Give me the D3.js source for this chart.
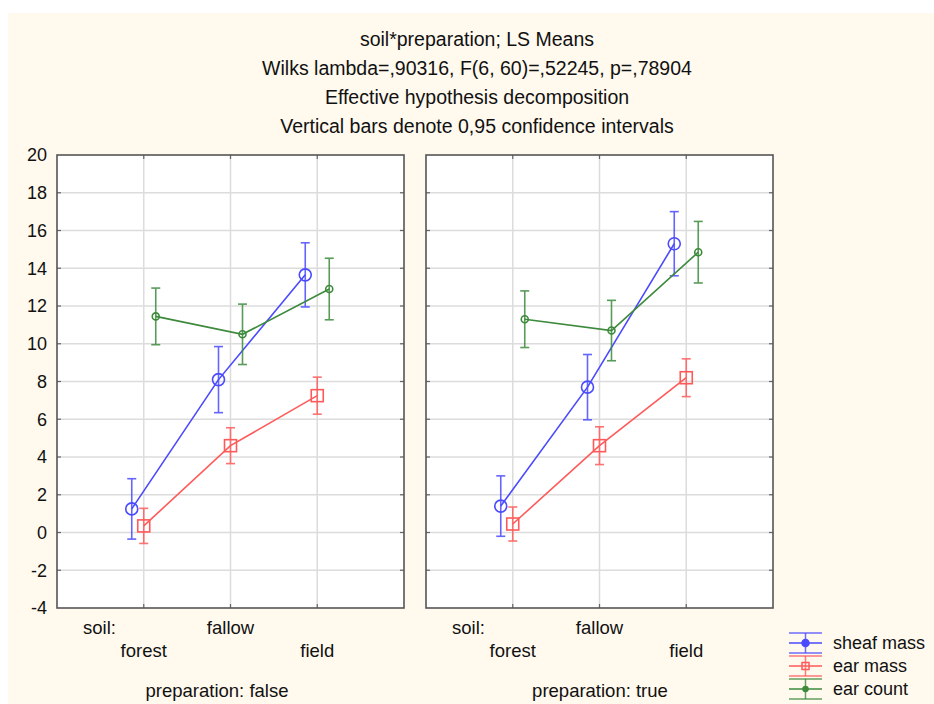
<!DOCTYPE html>
<html><head><meta charset="utf-8">
<script src="https://cdn.jsdelivr.net/npm/d3@7"></script>
<style>
html,body{margin:0;padding:0;background:#fff;}
svg{display:block;font-family:"Liberation Sans",Arial,sans-serif;}
</style></head>
<body>
<svg id="chart" width="934" height="704"></svg>
<script>
// ---- data ----
const titleLines = [
  "soil*preparation; LS Means",
  "Wilks lambda=,90316, F(6, 60)=,52245, p=,78904",
  "Effective hypothesis decomposition",
  "Vertical bars denote 0,95 confidence intervals"
];
const categories = ["forest", "fallow", "field"];
const panels = ["false", "true"];
const seriesNames = ["sheaf mass", "ear mass", "ear count"];
const seriesColors = ["#4a4aff", "#ff5a5a", "#3d8a3d"];
const yTicks = [-4, -2, 0, 2, 4, 6, 8, 10, 12, 14, 16, 18, 20];

// means [panel][category]
const sheafMass = [[1.25, 8.1, 13.65], [1.4, 7.7, 15.3]];
const earMass   = [[0.35, 4.6, 7.25], [0.45, 4.6, 8.2]];
const earCount  = [[11.45, 10.5, 12.9], [11.3, 10.7, 14.85]];
// 95% CI half widths [panel][category]
const sheafMassCI = [[1.6, 1.75, 1.7], [1.6, 1.73, 1.7]];
const earMassCI   = [[0.93, 0.95, 0.98], [0.9, 1.0, 1.0]];
const earCountCI  = [[1.5, 1.6, 1.63], [1.5, 1.6, 1.63]];

const seriesMeans = [sheafMass, earMass, earCount];
const seriesCI = [sheafMassCI, earMassCI, earCountCI];

// ---- layout ----
const svg = d3.select("#chart");
svg.append("rect").attr("x", 8).attr("y", 13).attr("width", 926).attr("height", 691).attr("fill", "#fff9ee");

const panelLeft = [57, 426], panelW = 347, plotTop = 155, plotBottom = 608;
const y = d3.scaleLinear().domain([-4, 20]).range([plotBottom, plotTop]);
const dodge = d3.scalePoint().domain(seriesNames).range([-12, 12]);

const title = svg.append("g").attr("font-size", 19.5).attr("fill", "#111").attr("text-anchor", "middle");
titleLines.forEach((t, i) => title.append("text").attr("x", 477).attr("y", 46 + i * 29).text(t));

// y tick labels
svg.append("g").attr("font-size", 18).attr("fill", "#111").attr("text-anchor", "end")
  .selectAll("text").data(yTicks).join("text")
  .attr("x", 47).attr("y", d => y(d)).attr("dy", "0.36em").text(d => d);

panels.forEach((p, pi) => {
  const x0 = panelLeft[pi];
  const x = d3.scalePoint().domain(categories).range([x0, x0 + panelW]).padding(1);
  const g = svg.append("g");
  g.append("rect").attr("x", x0).attr("y", plotTop).attr("width", panelW).attr("height", plotBottom - plotTop).attr("fill", "#fff");
  // grid
  g.append("g").selectAll("line").data(yTicks.slice(1, -1)).join("line")
    .attr("x1", x0).attr("x2", x0 + panelW).attr("y1", d => y(d)).attr("y2", d => y(d))
    .attr("stroke", "#dcdcdc").attr("stroke-width", 1.5);
  g.append("g").selectAll("line").data(categories).join("line")
    .attr("x1", d => x(d)).attr("x2", d => x(d)).attr("y1", plotTop).attr("y2", plotBottom)
    .attr("stroke", "#dcdcdc").attr("stroke-width", 1.5);
  // inner ticks
  const tk = g.append("g").attr("stroke", "#666").attr("stroke-width", 1.2);
  yTicks.slice(1, -1).forEach(v => {
    tk.append("line").attr("x1", x0).attr("x2", x0 + 4).attr("y1", y(v)).attr("y2", y(v));
    tk.append("line").attr("x1", x0 + panelW - 4).attr("x2", x0 + panelW).attr("y1", y(v)).attr("y2", y(v));
  });
  categories.forEach(c => {
    tk.append("line").attr("x1", x(c)).attr("x2", x(c)).attr("y1", plotBottom).attr("y2", plotBottom - 4);
    tk.append("line").attr("x1", x(c)).attr("x2", x(c)).attr("y1", plotTop).attr("y2", plotTop + 4);
  });
  g.append("rect").attr("x", x0).attr("y", plotTop).attr("width", panelW).attr("height", plotBottom - plotTop)
    .attr("fill", "none").attr("stroke", "#555").attr("stroke-width", 1.6);

  // series
  seriesNames.forEach((s, si) => {
    const col = seriesColors[si];
    const pts = categories.map((c, ci) => ({
      x: x(c) + dodge(s), m: seriesMeans[si][pi][ci], h: seriesCI[si][pi][ci]
    }));
    const sg = g.append("g");
    sg.append("path").datum(pts)
      .attr("d", d3.line().x(d => d.x).y(d => y(d.m)))
      .attr("fill", "none").attr("stroke", col).attr("stroke-width", 1.6);
    const eb = sg.append("g").attr("stroke", col).attr("stroke-width", 1.6).attr("opacity", 0.85);
    pts.forEach(d => {
      eb.append("line").attr("x1", d.x).attr("x2", d.x).attr("y1", y(d.m - d.h)).attr("y2", y(d.m + d.h));
      eb.append("line").attr("x1", d.x - 4.5).attr("x2", d.x + 4.5).attr("y1", y(d.m - d.h)).attr("y2", y(d.m - d.h));
      eb.append("line").attr("x1", d.x - 4.5).attr("x2", d.x + 4.5).attr("y1", y(d.m + d.h)).attr("y2", y(d.m + d.h));
    });
    pts.forEach(d => {
      if (si === 0) sg.append("circle").attr("cx", d.x).attr("cy", y(d.m)).attr("r", 6)
        .attr("fill", "none").attr("stroke", col).attr("stroke-width", 1.6);
      else if (si === 1) sg.append("rect").attr("x", d.x - 6).attr("y", y(d.m) - 6).attr("width", 12).attr("height", 12)
        .attr("fill", "none").attr("stroke", col).attr("stroke-width", 1.6);
      else sg.append("circle").attr("cx", d.x).attr("cy", y(d.m)).attr("r", 3.5)
        .attr("fill", "none").attr("stroke", col).attr("stroke-width", 1.6);
    });
  });

  // category labels
  const lab = svg.append("g").attr("font-size", 18.5).attr("fill", "#111");
  lab.append("text").attr("x", x0 + 26).attr("y", 634).text("soil:");
  categories.forEach((c, ci) => {
    lab.append("text").attr("x", x(c)).attr("y", ci % 2 === 1 ? 634 : 657)
      .attr("text-anchor", "middle").text(c);
  });
  lab.append("text").attr("x", pi === 0 ? 217 : 600).attr("y", 697).attr("text-anchor", "middle")
    .text("preparation: " + p);
});

// legend
const lg = svg.append("g");
seriesNames.forEach((s, si) => {
  const cy = 643 + si * 23, col = seriesColors[si];
  const r = lg.append("g").attr("stroke", col).attr("stroke-width", 1.5);
  r.append("line").attr("x1", 789).attr("x2", 822).attr("y1", cy - 10).attr("y2", cy - 10).attr("opacity", 0.8);
  r.append("line").attr("x1", 789).attr("x2", 822).attr("y1", cy + 10).attr("y2", cy + 10).attr("opacity", 0.8);
  r.append("line").attr("x1", 789).attr("x2", 822).attr("y1", cy).attr("y2", cy);
  r.append("line").attr("x1", 805.5).attr("x2", 805.5).attr("y1", cy - 10).attr("y2", cy + 10).attr("opacity", 0.8);
  if (si === 0) r.append("circle").attr("cx", 805.5).attr("cy", cy).attr("r", 3.5).attr("fill", col);
  else if (si === 1) r.append("rect").attr("x", 802).attr("y", cy - 3.5).attr("width", 7).attr("height", 7).attr("fill", "none");
  else r.append("circle").attr("cx", 805.5).attr("cy", cy).attr("r", 2.5).attr("fill", col);
  lg.append("text").attr("x", 833).attr("y", cy).attr("dy", "0.36em").attr("font-size", 18).attr("fill", "#111").text(s);
});
</script>
</body></html>
